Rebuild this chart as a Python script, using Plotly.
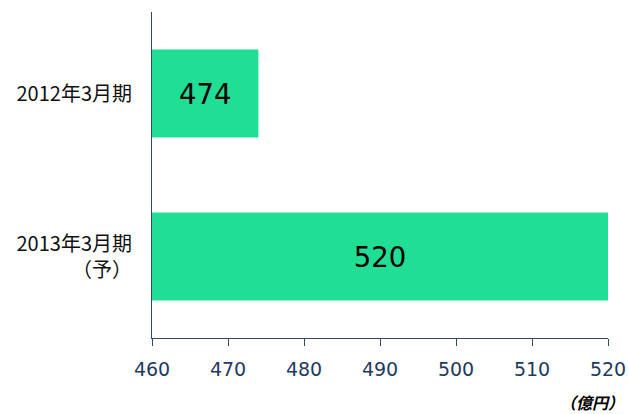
import plotly.graph_objects as go

categories = ["2012年3月期", "2013年3月期<br>（予）"]
values = [474, 520]
axis_min = 460
tick_vals = [460, 470, 480, 490, 500, 510, 520]
unit_label = "（億円）"

fig = go.Figure()
fig.add_trace(go.Bar(
    x=[v - axis_min for v in values], base=axis_min, y=categories, orientation="h",
    marker=dict(color="#20DF94", line=dict(width=0)),
    text=[str(v) for v in values], textposition="inside", insidetextanchor="middle",
    textangle=0,
    textfont=dict(family="DejaVu Sans", size=27.5, color="#000000"),
    width=0.54, hoverinfo="skip",
))
fig.update_layout(
    width=629, height=414,
    margin=dict(l=152, r=21, t=12, b=76),
    plot_bgcolor="white", paper_bgcolor="white",
    showlegend=False,
    uniformtext=dict(mode=False),
    xaxis=dict(range=[460, 520], tickvals=tick_vals, showgrid=False, zeroline=False,
               showline=True, linecolor="#2F4A6B", linewidth=1, automargin=False,
               ticks="outside", ticklen=7, tickcolor="#2F4A6B",
               tickfont=dict(family="DejaVu Sans", size=19, color="#1F3A5F"),
               ticklabelstandoff=7),
    yaxis=dict(autorange="reversed", showgrid=False, zeroline=False, automargin=False,
               showline=True, linecolor="#2F4A6B", linewidth=1,
               ticks="", tickfont=dict(family="Noto Sans CJK JP", size=20, color="#111111"),
               ticklabelstandoff=15),
    annotations=[dict(text="<b><i>" + unit_label + "</i></b>", x=1.0, xref="paper",
                      y=-0.196, yref="paper", xanchor="right", yanchor="middle", showarrow=False,
                      xshift=18,
                      font=dict(family="Noto Sans CJK JP", size=16, color="#000000"))],
)
fig.write_html("out.html")
